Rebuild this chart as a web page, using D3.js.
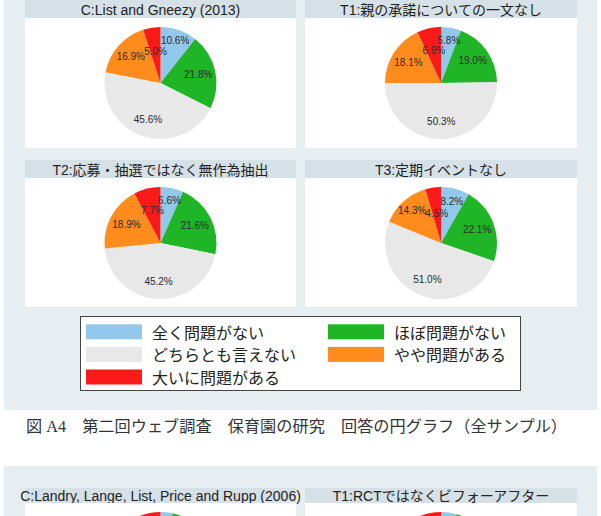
<!DOCTYPE html>
<html><head><meta charset="utf-8">
<script src="https://cdn.jsdelivr.net/npm/d3@7"></script>
<style>
html,body{margin:0;padding:0;background:#fff;}
svg{display:block;}
</style></head>
<body>
<svg id="chart" width="601" height="516"></svg>
<script>
// ---------- data ----------
const categories = ["全く問題がない","ほぼ問題がない","どちらとも言えない","やや問題がある","大いに問題がある"];
const colors = ["#92c8ec","#1fb526","#e8e8e8","#ff8c1c","#fb1a1a"];

const panelTitles = ["C:List and Gneezy (2013)","T1:親の承諾についての一文なし","T2:応募・抽選ではなく無作為抽出","T3:定期イベントなし"];
const valuesC  = [10.6, 21.8, 45.6, 16.9, 5.0];
const valuesT1 = [5.8, 19.0, 50.3, 18.1, 6.9];
const valuesT2 = [6.6, 21.6, 45.2, 18.9, 7.7];
const valuesT3 = [8.2, 22.1, 51.0, 14.3, 4.5];

const caption = "図 A4　第二回ウェブ調査　保育園の研究　回答の円グラフ（全サンプル）";

// second figure (only the top is visible)
const panelTitles2 = ["C:Landry, Lange, List, Price and Rupp (2006)","T1:RCTではなくビフォーアフター"];
const values2C  = [3.5, 20.0, 50.0, 18.0, 8.5];
const values2T1 = [4.5, 20.0, 50.0, 17.0, 8.5];

// ---------- drawing ----------
const svg = d3.select("#chart");
const W = 601, H = 516;
const bgCol = "#e7eef1", stripCol = "#d6e1e7";
const latin = "'Liberation Sans', Arial, 'Noto Sans CJK JP', sans-serif";

svg.append("rect").attr("width",W).attr("height",H).attr("fill","#fff");
svg.append("rect").attr("x",4).attr("y",0).attr("width",593).attr("height",410).attr("fill",bgCol);
svg.append("rect").attr("x",4).attr("y",466).attr("width",593).attr("height",H-466).attr("fill",bgCol);

const R = 56;
const pie = d3.pie().sort(null).value(d=>d);
const arc = d3.arc().innerRadius(0).outerRadius(R);
const fmt = d => d3.format(".1f")(d)+"%";

const cols = [{x0:25,x1:296},{x0:305,x1:577}];

// label placement: centroid at 0.69R, then push overlapping neighbours apart radially
function labelPositions(arcs){
  const labs = arcs.map(a=>{
    const ang = (a.startAngle+a.endAngle)/2;
    const txt = fmt(a.data);
    return {ang, r:R*0.69, w:txt.length*5.4, txt};
  });
  const pos = l => [Math.sin(l.ang)*l.r, -Math.cos(l.ang)*l.r];
  const overlap = (a,b)=>{
    const [ax,ay]=pos(a),[bx,by]=pos(b);
    return Math.abs(ax-bx) < (a.w+b.w)/2 && Math.abs(ay-by) < 10;
  };
  for(let iter=0; iter<20; iter++){
    let moved=false;
    for(let i=0;i<labs.length;i++){
      const j=(i+1)%labs.length;
      const a=labs[i], b=labs[j];
      if(overlap(a,b)){
        if(j===0){ b.r+=0.5; a.r-=0.5; } else { a.r+=0.5; b.r-=0.5; }
        moved=true;
      }
    }
    if(!moved) break;
  }
  return labs.map(l=>({txt:l.txt, p:pos(l)}));
}

function drawPanel(title, values, col, stripTop, stripH, plotH, showLabels){
  const g = svg.append("g");
  g.append("rect").attr("x",col.x0).attr("y",stripTop).attr("width",col.x1-col.x0).attr("height",stripH).attr("fill",stripCol);
  g.append("text").attr("x",(col.x0+col.x1)/2).attr("y",stripTop+stripH/2+0.5)
    .attr("text-anchor","middle").attr("dominant-baseline","central")
    .attr("font-family",latin).attr("font-size",14).attr("fill","#222").text(title);
  const plotTop = stripTop+stripH;
  g.append("rect").attr("x",col.x0).attr("y",plotTop).attr("width",col.x1-col.x0).attr("height",plotH).attr("fill","#fff");
  const cx = (col.x0+col.x1)/2, cy = plotTop + 65;
  const pg = g.append("g").attr("transform",`translate(${cx},${cy})`);
  const arcs = pie(values);
  pg.selectAll("path").data(arcs).join("path")
    .attr("d",arc).attr("fill",(d,i)=>colors[i]);
  if(showLabels){
    pg.selectAll("text").data(labelPositions(arcs)).join("text")
      .attr("x",d=>d.p[0]).attr("y",d=>d.p[1])
      .attr("text-anchor","middle").attr("dominant-baseline","central")
      .attr("font-family",latin).attr("font-size",10).attr("fill","#2a2a2a")
      .text(d=>d.txt);
  }
}

drawPanel(panelTitles[0], valuesC,  cols[0], 0, 18, 130, true);
drawPanel(panelTitles[1], valuesT1, cols[1], 0, 18, 130, true);
drawPanel(panelTitles[2], valuesT2, cols[0], 160, 18, 129, true);
drawPanel(panelTitles[3], valuesT3, cols[1], 160, 18, 129, true);

// legend
const lg = svg.append("g");
lg.append("rect").attr("x",80.5).attr("y",316.5).attr("width",440).attr("height",74)
  .attr("fill","#fff").attr("stroke","#444").attr("stroke-width",1);
const legX = [86, 328], legY0 = 331.8, legDy = 22.6;
categories.forEach((c,i)=>{
  const cx = legX[i%2], cy = legY0 + Math.floor(i/2)*legDy;
  lg.append("rect").attr("x",cx).attr("y",cy-7.5).attr("width",56).attr("height",15).attr("fill",colors[i]);
  lg.append("text").attr("x",cx+66).attr("y",cy).attr("dominant-baseline","central")
    .attr("font-family","'Noto Sans CJK JP', sans-serif").attr("font-size",16).attr("fill","#222").text(c);
});

// caption
svg.append("text").attr("x",26).attr("y",432)
  .attr("font-family","'Liberation Serif', 'Noto Sans CJK JP', serif").attr("font-size",16)
  .attr("fill","#333").attr("textLength",541).attr("lengthAdjust","spacingAndGlyphs")
  .text(caption);

// second figure (cut off at the bottom of the page; its labels lie below the edge)
drawPanel(panelTitles2[0], values2C,  cols[0], 488, 15, 60, false);
drawPanel(panelTitles2[1], values2T1, cols[1], 488, 15, 60, false);
</script>
</body></html>
